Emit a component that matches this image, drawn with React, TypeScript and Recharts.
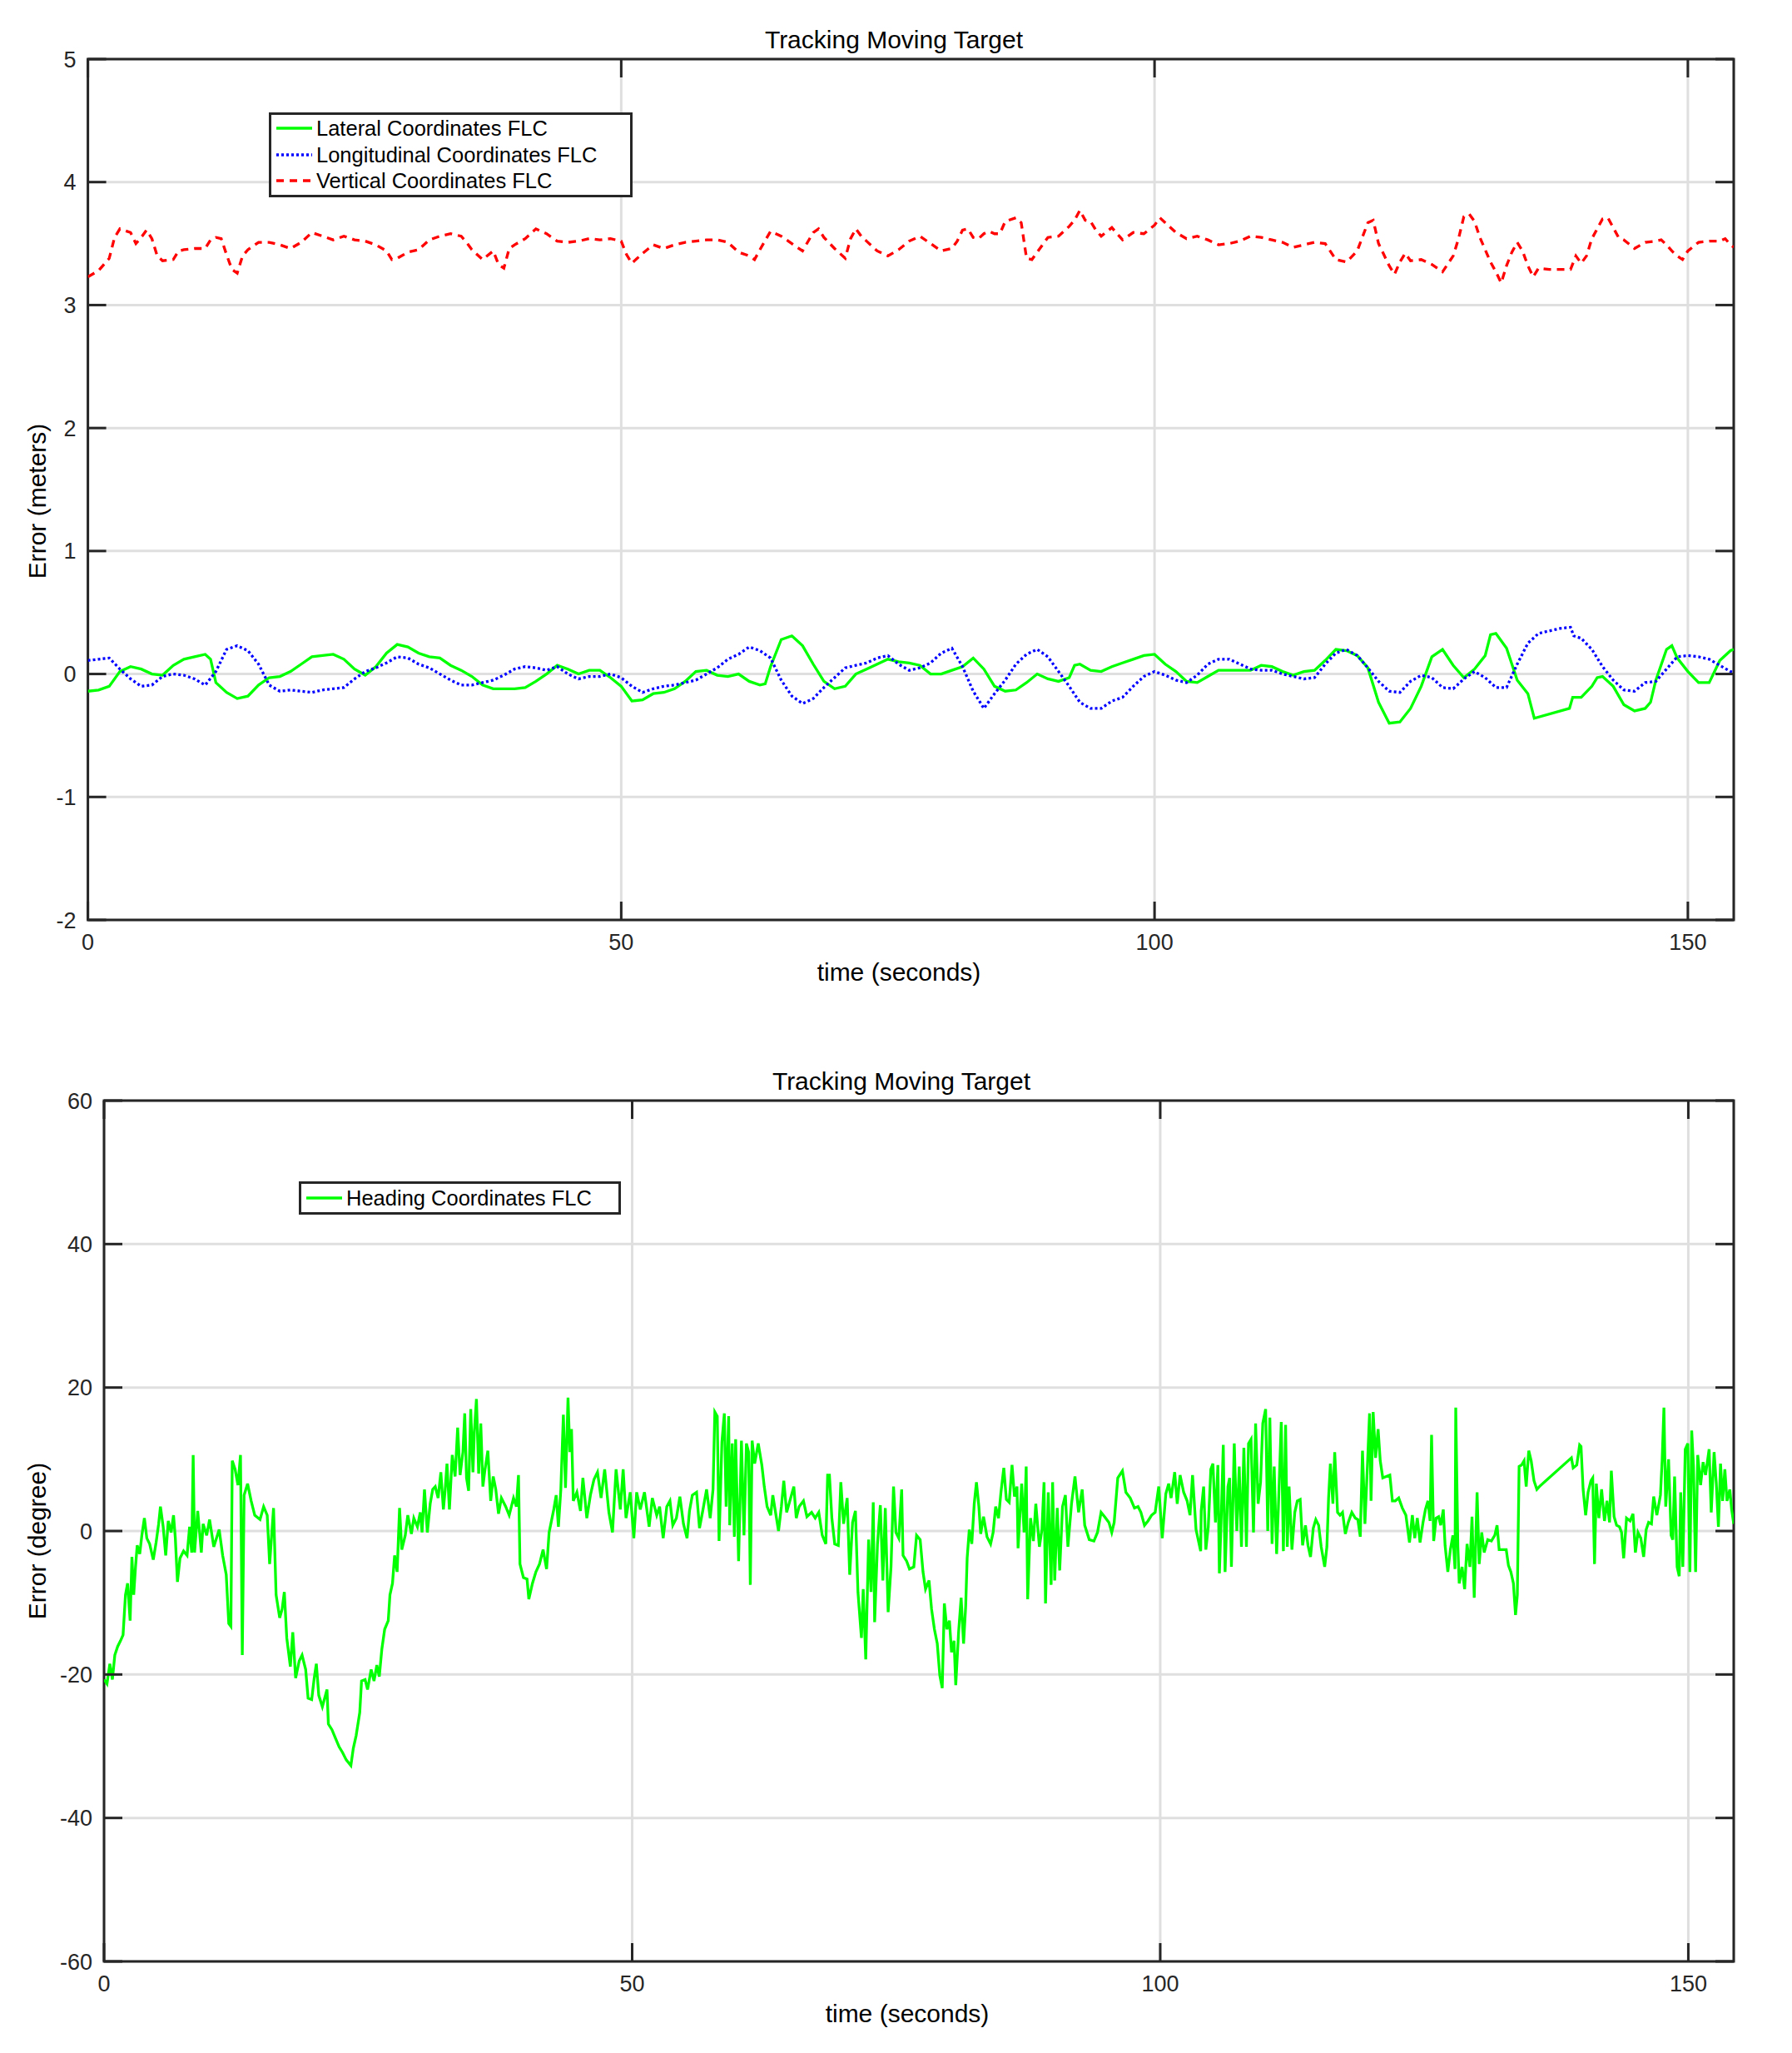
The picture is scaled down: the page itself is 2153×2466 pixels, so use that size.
import React from "react";
import {
  CartesianGrid,
  Legend,
  Line,
  LineChart,
  ReferenceArea,
  XAxis,
  YAxis,
} from "recharts";

const FONT = '"Liberation Sans", Arial, Helvetica, sans-serif';
const INK = "#262626";
const GRID_COLOR = "#dfdfdf";
const X_MAX = 154.3;
const X_TICKS = [0, 50, 100, 150];
const TOP_Y_TICKS = [-2, -1, 0, 1, 2, 3, 4, 5];
const BOT_Y_TICKS = [-60, -40, -20, 0, 20, 40, 60];

// lateral (green) error, metres
const LAT_T = [
  0, 1, 2, 3, 4, 5, 6, 7, 8, 9, 10, 11, 11.5, 12, 13, 14, 15, 16, 17, 18, 19, 20, 21, 22, 23, 24, 25, 26, 27, 28, 29, 30,
  31, 32, 33, 34, 35, 36, 37, 38, 39, 40, 41, 42, 43, 44, 45, 46, 47, 48, 49, 50, 51, 52, 53, 54, 55, 56, 57, 58, 59, 60,
  61, 62, 63, 63.5, 64, 65, 66, 67, 68, 69, 70, 71, 72, 73, 74, 75, 76, 77, 78, 79, 80, 81, 82, 83, 84, 85, 86, 87, 88,
  89, 90, 91, 92, 92.5, 93, 94, 95, 96, 97, 98, 99, 100, 101, 102, 103, 104, 105, 106, 107, 108, 109, 110, 111, 112, 113,
  114, 115, 116, 117, 118, 119, 120, 121, 122, 123, 124, 125, 125.5, 126, 127, 128, 129, 130, 131, 131.5, 132, 133, 134,
  135, 135.6, 138.9, 139.2, 140, 141, 141.5, 142, 143, 144, 145, 146, 146.5, 147, 148, 148.5, 149, 150, 151, 152, 153,
  154, 154.3,
];
const LAT_V = [
  -0.14, -0.13, -0.1, 0.02, 0.06, 0.04, 0.0, -0.01, 0.07, 0.12, 0.14, 0.16, 0.12, -0.07, -0.15, -0.2, -0.18, -0.09, -0.03,
  -0.02, 0.02, 0.08, 0.14, 0.15, 0.16, 0.12, 0.04, -0.01, 0.06, 0.17, 0.24, 0.22, 0.17, 0.14, 0.13, 0.07, 0.03, -0.02,
  -0.09, -0.12, -0.12, -0.12, -0.11, -0.06, 0.0, 0.07, 0.04, 0.0, 0.03, 0.03, -0.03, -0.1, -0.22, -0.21, -0.16, -0.15,
  -0.12, -0.06, 0.02, 0.03, -0.01, -0.02, 0.0, -0.06, -0.09, -0.08, 0.06, 0.28, 0.31, 0.23, 0.08, -0.06, -0.12, -0.1, 0.0,
  0.04, 0.08, 0.12, 0.1, 0.09, 0.07, 0.0, 0.0, 0.03, 0.06, 0.13, 0.04, -0.1, -0.14, -0.13, -0.07, 0.0, -0.04, -0.06,
  -0.03, 0.07, 0.08, 0.03, 0.02, 0.06, 0.09, 0.12, 0.15, 0.16, 0.08, 0.02, -0.06, -0.07, -0.02, 0.03, 0.03, 0.03, 0.03,
  0.07, 0.06, 0.02, -0.01, 0.02, 0.03, 0.11, 0.2, 0.19, 0.15, 0.05, -0.23, -0.4, -0.39, -0.28, -0.1, 0.02, 0.14, 0.2,
  0.07, -0.03, 0.04, 0.15, 0.32, 0.33, 0.21, -0.05, -0.16, -0.36, -0.28, -0.19, -0.19, -0.1, -0.03, -0.02, -0.1, -0.25,
  -0.3, -0.28, -0.23, -0.05, 0.2, 0.23, 0.13, 0.02, -0.07, -0.07, 0.11, 0.19, 0.2,
];

// longitudinal (blue) error, metres
const LON_T = [
  0, 1, 2, 3, 4, 5, 6, 7, 8, 9, 10, 11, 12, 13, 14, 15, 16, 17, 18, 19, 20, 21, 22, 23, 24, 25, 26, 27, 28, 29, 30, 31,
  32, 33, 34, 35, 36, 37, 38, 39, 40, 41, 42, 43, 44, 45, 46, 47, 48, 49, 50, 51, 52, 53, 54, 55, 56, 57, 58, 59, 60, 61,
  62, 63, 64, 64.5, 65, 66, 67, 68, 69, 70, 71, 72, 73, 74, 75, 76, 77, 78, 79, 80, 81, 82, 83, 84, 85, 86, 87, 88, 89,
  90, 91, 92, 93, 94, 95, 96, 97, 98, 99, 100, 101, 102, 103, 104, 105, 106, 107, 108, 109, 110, 111, 112, 113, 114, 115,
  116, 117, 118, 119, 120, 121, 122, 123, 124, 125, 126, 127, 128, 129, 130, 131, 132, 133, 134, 135, 136, 137, 138, 139,
  139.3, 140, 141, 142, 143, 144, 145, 146, 147, 148, 149, 150, 151, 152, 153, 154, 154.3,
];
const LON_V = [
  0.11, 0.12, 0.13, 0.04, -0.04, -0.1, -0.09, -0.02, 0.0, -0.01, -0.04, -0.09, 0.02, 0.2, 0.23, 0.19, 0.08, -0.09, -0.14,
  -0.13, -0.14, -0.15, -0.13, -0.12, -0.11, -0.04, 0.02, 0.05, 0.09, 0.14, 0.13, 0.08, 0.05, 0.0, -0.05, -0.09, -0.09,
  -0.07, -0.05, -0.01, 0.04, 0.06, 0.05, 0.03, 0.06, 0.0, -0.04, -0.02, -0.02, 0.0, -0.03, -0.1, -0.15, -0.12, -0.1,
  -0.09, -0.07, -0.05, 0.0, 0.05, 0.12, 0.16, 0.22, 0.19, 0.13, 0.04, -0.05, -0.18, -0.24, -0.2, -0.11, -0.03, 0.05, 0.07,
  0.09, 0.13, 0.15, 0.08, 0.03, 0.05, 0.09, 0.17, 0.21, 0.06, -0.14, -0.28, -0.16, -0.05, 0.08, 0.16, 0.2, 0.14, 0.02,
  -0.1, -0.23, -0.28, -0.28, -0.22, -0.19, -0.1, -0.02, 0.02, -0.01, -0.05, -0.07, -0.01, 0.08, 0.12, 0.12, 0.08, 0.04,
  0.03, 0.03, 0.0, -0.02, -0.04, -0.03, 0.08, 0.17, 0.2, 0.15, 0.05, -0.06, -0.14, -0.15, -0.06, -0.01, -0.03, -0.11,
  -0.12, -0.04, 0.02, -0.03, -0.11, -0.11, 0.08, 0.25, 0.33, 0.35, 0.37, 0.38, 0.31, 0.29, 0.2, 0.06, -0.05, -0.13,
  -0.14, -0.07, -0.06, 0.04, 0.14, 0.15, 0.14, 0.12, 0.07, 0.02, 0.01,
];

// vertical (red) error, metres
const VER_T = [
  0, 1, 2, 2.5, 3, 4, 4.5, 5, 5.5, 6, 6.5, 7, 8, 8.5, 9, 10, 11, 11.5, 12, 12.5, 13, 13.5, 14, 14.5, 15, 16, 17, 18, 19,
  20, 21, 22, 23, 24, 25, 26, 27, 28, 28.5, 29, 30, 31, 32, 33, 34, 35, 35.5, 36, 37, 38, 38.5, 39, 39.5, 40, 41, 42, 43,
  44, 45, 46, 47, 48, 49, 50, 50.5, 51, 52, 53, 54, 55, 56, 57, 58, 59, 60, 61, 62, 62.5, 63, 64, 65, 66, 67, 68, 68.5,
  69, 70, 71, 71.5, 72, 72.5, 73, 74, 75, 76, 77, 78, 79, 80, 81, 81.5, 82, 82.5, 83, 83.5, 84, 84.5, 85, 85.5, 86, 87,
  87.5, 88, 88.5, 89, 90, 91, 92, 92.5, 93, 93.5, 94, 94.5, 95, 96, 97, 98, 99, 100, 100.5, 101, 102, 103, 104, 105, 106,
  107, 108, 109, 110, 111, 112, 113, 114, 115, 116, 117, 118, 119, 120, 120.5, 121, 122, 122.5, 123, 123.5, 124, 125,
  126, 127, 128, 128.5, 129, 129.5, 130, 130.5, 131, 131.5, 132, 132.5, 133, 133.5, 134, 134.5, 135, 135.5, 136, 137,
  138, 139, 139.5, 140, 140.5, 141, 141.5, 142, 142.5, 143, 143.5, 144, 145, 146, 147, 147.5, 148, 148.5, 149, 149.5,
  150, 151, 152, 153, 153.5, 154, 154.3,
];
const VER_V = [
  3.23, 3.28, 3.38, 3.55, 3.62, 3.59, 3.5, 3.55, 3.61, 3.54, 3.4, 3.36, 3.37, 3.44, 3.45, 3.46, 3.46, 3.53, 3.55, 3.54,
  3.41, 3.29, 3.26, 3.4, 3.45, 3.51, 3.51, 3.49, 3.46, 3.51, 3.59, 3.56, 3.53, 3.56, 3.53, 3.52, 3.49, 3.44, 3.37, 3.38,
  3.43, 3.45, 3.53, 3.56, 3.58, 3.56, 3.51, 3.45, 3.37, 3.44, 3.33, 3.3, 3.46, 3.49, 3.54, 3.62, 3.58, 3.52, 3.51, 3.52,
  3.54, 3.53, 3.54, 3.52, 3.41, 3.34, 3.42, 3.49, 3.46, 3.49, 3.51, 3.52, 3.53, 3.53, 3.51, 3.43, 3.4, 3.37, 3.45, 3.6,
  3.56, 3.5, 3.44, 3.59, 3.62, 3.55, 3.46, 3.38, 3.54, 3.62, 3.56, 3.52, 3.44, 3.4, 3.45, 3.52, 3.56, 3.5, 3.44, 3.46,
  3.52, 3.61, 3.62, 3.55, 3.54, 3.58, 3.6, 3.58, 3.58, 3.68, 3.71, 3.67, 3.38, 3.37, 3.43, 3.55, 3.56, 3.64, 3.69, 3.77,
  3.69, 3.68, 3.61, 3.56, 3.63, 3.53, 3.59, 3.58, 3.65, 3.71, 3.67, 3.59, 3.54, 3.56, 3.53, 3.49, 3.5, 3.52, 3.56, 3.55,
  3.53, 3.51, 3.47, 3.49, 3.51, 3.5, 3.37, 3.35, 3.44, 3.67, 3.69, 3.5, 3.32, 3.25, 3.35, 3.42, 3.36, 3.37, 3.33, 3.27,
  3.4, 3.54, 3.72, 3.74, 3.68, 3.55, 3.45, 3.35, 3.27, 3.18, 3.32, 3.43, 3.51, 3.44, 3.32, 3.23, 3.3, 3.29, 3.29, 3.29,
  3.4, 3.34, 3.4, 3.54, 3.62, 3.7, 3.71, 3.63, 3.55, 3.53, 3.46, 3.51, 3.52, 3.53, 3.49, 3.44, 3.4, 3.37, 3.44, 3.51,
  3.52, 3.52, 3.54, 3.49, 3.47,
];

// heading error, degrees
const HDG_T = [
  0.01, 0.28, 0.55, 0.79, 1.02, 1.29, 1.56, 1.8, 2.03, 2.23, 2.47, 2.64, 2.81, 2.98, 3.14, 3.38, 3.58, 3.82, 4.05, 4.32,
  4.66, 4.93, 5.17, 5.34, 5.6, 5.84, 6.08, 6.35, 6.58, 6.75, 6.95, 7.19, 7.53, 7.86, 8.1, 8.3, 8.44, 8.57, 8.87, 9.21,
  9.38, 9.72, 9.99, 10.39, 10.9, 11.23, 11.57, 11.81, 12.01, 12.14, 12.41, 12.68, 12.92, 13.09, 13.26, 13.59, 13.93,
  14.27, 14.77, 15.11, 15.45, 15.68, 16.05, 16.29, 16.63, 16.86, 17.07, 17.3, 17.64, 17.87, 18.14, 18.48, 18.75, 19.09,
  19.32, 19.66, 19.9, 20.1, 20.33, 20.67, 21.11, 21.24, 21.58, 21.92, 22.26, 22.59, 22.93, 23.37, 23.6, 23.87, 24.21,
  24.38, 24.72, 24.95, 25.29, 25.56, 25.83, 26.06, 26.3, 26.57, 26.91, 27.07, 27.31, 27.51, 27.75, 27.98, 28.19, 28.52,
  28.76, 29.1, 29.33, 29.67, 29.94, 30.11, 30.34, 30.61, 30.88, 31.12, 31.36, 31.63, 31.89, 32.13, 32.3, 32.47, 32.7,
  32.97, 33.24, 33.48, 33.71, 33.98, 34.15, 34.32, 34.52, 34.72, 34.93, 35.06, 35.26, 35.47, 35.67, 35.87, 36.07, 36.34,
  36.61, 36.85, 37.09, 37.35, 37.62, 38.03, 38.36, 38.77, 39.04, 39.24, 39.38, 39.71, 40.05, 40.22, 40.56, 40.89, 41.23,
  41.57, 41.9, 42.14, 42.58, 42.81, 43.02, 43.25, 43.49, 43.69, 43.93, 44.1, 44.26, 44.43, 44.77, 45.11, 45.34, 45.71,
  46.05, 46.39, 46.72, 47.06, 47.4, 47.8, 48.14, 48.48, 48.88, 49.15, 49.42, 49.82, 50.16, 50.43, 50.77, 51.17, 51.61,
  51.91, 52.33, 52.6, 52.94, 53.28, 53.58, 53.85, 54.19, 54.52, 54.86, 55.2, 55.43, 55.7, 56.1, 56.38, 56.71, 57.05,
  57.39, 57.66, 57.83, 58.06, 58.23, 58.5, 58.73, 58.9, 59.14, 59.24, 59.48, 59.68, 59.8, 60.08, 60.35, 60.59, 60.82,
  61.03, 61.19, 61.36, 61.6, 61.94, 62.28, 62.51, 62.78, 63.12, 63.32, 63.62, 63.86, 64.13, 64.36, 64.63, 64.97, 65.31,
  65.54, 65.81, 66.22, 66.55, 66.99, 67.33, 67.67, 68.0, 68.34, 68.51, 68.68, 68.91, 69.18, 69.52, 69.76, 70.02, 70.36,
  70.6, 70.87, 71.14, 71.38, 71.71, 71.88, 72.12, 72.39, 72.62, 72.83, 72.96, 73.23, 73.5, 73.74, 73.97, 74.24, 74.51,
  74.75, 74.98, 75.25, 75.52, 75.65, 75.99, 76.26, 76.67, 76.93, 77.27, 77.54, 77.78, 78.11, 78.35, 78.62, 78.89, 79.13,
  79.36, 79.56, 79.8, 80.04, 80.24, 80.48, 80.64, 80.91, 81.15, 81.38, 81.58, 81.72, 81.92, 82.16, 82.39, 82.6, 82.83,
  83.0, 83.27, 83.6, 83.94, 84.18, 84.42, 84.69, 84.92, 85.19, 85.43, 85.7, 85.97, 86.2, 86.44, 86.54, 86.88, 87.11,
  87.31, 87.45, 87.72, 87.99, 88.22, 88.56, 88.8, 89.0, 89.14, 89.4, 89.67, 89.81, 90.01, 90.25, 90.48, 90.75, 91.02,
  91.26, 91.6, 91.93, 92.27, 92.61, 92.85, 93.28, 93.72, 94.06, 94.4, 94.73, 95.14, 95.41, 95.64, 95.98, 96.42, 96.75,
  97.16, 97.56, 97.9, 98.17, 98.51, 98.84, 99.18, 99.52, 99.86, 100.19, 100.53, 100.8, 101.03, 101.37, 101.61, 101.88,
  102.22, 102.55, 102.82, 103.06, 103.39, 103.83, 103.88, 104.11, 104.32, 104.55, 104.79, 104.99, 105.23, 105.46, 105.6,
  105.8, 105.97, 106.14, 106.41, 106.57, 106.74, 107.01, 107.25, 107.48, 107.69, 107.92, 108.16, 108.36, 108.6, 108.83,
  109.03, 109.27, 109.5, 109.71, 109.98, 110.18, 110.38, 110.59, 110.79, 111.02, 111.19, 111.46, 111.66, 111.87, 112.03,
  112.2, 112.47, 112.74, 112.98, 113.25, 113.48, 113.75, 113.99, 114.23, 114.49, 114.73, 115.0, 115.24, 115.57, 115.78,
  115.94, 116.11, 116.35, 116.52, 116.79, 117.02, 117.26, 117.53, 117.8, 118.14, 118.47, 118.71, 118.94, 119.15, 119.38,
  119.62, 119.82, 119.96, 120.16, 120.39, 120.63, 120.83, 121.07, 121.4, 121.74, 121.98, 122.25, 122.58, 122.92, 123.26,
  123.6, 123.87, 124.1, 124.34, 124.6, 124.88, 125.11, 125.35, 125.55, 125.69, 125.89, 126.12, 126.36, 126.56, 126.8,
  126.97, 127.23, 127.47, 127.71, 127.91, 127.98, 128.18, 128.31, 128.58, 128.82, 129.05, 129.32, 129.52, 129.73, 130.0,
  130.2, 130.44, 130.67, 131.01, 131.35, 131.68, 131.89, 132.09, 132.43, 132.76, 132.97, 133.2, 133.44, 133.64, 133.81,
  133.98, 134.21, 134.45, 134.65, 134.89, 135.12, 135.39, 135.66, 135.9, 138.93, 139.1, 139.44, 139.71, 139.84, 140.04,
  140.28, 140.51, 140.78, 140.95, 141.12, 141.29, 141.53, 141.79, 142.06, 142.3, 142.54, 142.71, 142.97, 143.21, 143.48,
  143.68, 143.88, 144.15, 144.49, 144.76, 144.99, 145.23, 145.5, 145.77, 146.01, 146.24, 146.51, 146.72, 147.02, 147.36,
  147.52, 147.69, 147.86, 148.13, 148.37, 148.53, 148.7, 148.94, 149.14, 149.28, 149.48, 149.71, 149.95, 150.15, 150.32,
  150.49, 150.69, 150.89, 151.16, 151.4, 151.63, 151.97, 152.17, 152.44, 152.65, 152.85, 153.05, 153.25, 153.46, 153.66,
  153.93, 154.1, 154.3,
];
const HDG_V = [
  -20.7, -21.3, -18.5, -20.7, -17.3, -16.1, -15.3, -14.5, -8.9, -7.3, -12.5, -3.6, -8.9, -5.0, -2.0, -3.2, -0.6, 1.8,
  -1.0, -1.8, -4.0, -1.6, 1.0, 3.4, 0.6, -3.4, 1.4, -0.2, 2.2, -1.0, -7.1, -3.8, -2.8, -3.4, 0.6, -3.0, 10.6, -3.0, 2.8,
  -3.0, 1.0, -0.6, 1.6, -2.2, 0.2, -3.4, -6.1, -12.9, -13.3, 9.8, 8.6, 6.4, 10.6, -17.3, 5.0, 6.6, 4.2, 2.2, 1.6, 3.4,
  2.2, -4.6, 3.2, -8.9, -12.1, -10.9, -8.5, -14.9, -18.9, -14.1, -20.5, -18.1, -17.3, -19.3, -23.3, -23.5, -20.5, -18.5,
  -22.9, -24.5, -22.1, -26.9, -27.7, -28.9, -30.1, -30.9, -31.9, -32.7, -30.3, -28.5, -25.3, -20.9, -20.7, -22.1, -19.3,
  -20.9, -18.7, -20.3, -16.5, -13.7, -12.5, -8.9, -7.3, -3.4, -5.7, 3.2, -2.6, -0.6, 2.2, -0.4, 1.8, 0.6, 2.6, -0.2, 5.8,
  -0.2, 3.8, 5.8, 6.2, 4.6, 8.2, 3.0, 5.8, 9.4, 3.0, 10.6, 7.6, 14.4, 7.8, 11.0, 16.4, 7.4, 5.6, 17.0, 8.2, 13.8, 18.4,
  8.0, 15.0, 6.2, 8.6, 11.2, 4.2, 7.6, 5.8, 2.4, 4.6, 3.4, 2.2, 4.6, 3.4, 7.8, -4.6, -6.5, -6.7, -9.5, -7.3, -5.7, -4.6,
  -2.6, -5.3, -0.2, 3.0, 5.0, 0.6, 5.8, 16.2, 6.0, 18.6, 11.0, 14.2, 4.2, 5.4, 2.8, 7.4, 1.8, 5.0, 7.2, 8.2, 4.6, 8.6,
  2.6, -0.2, 8.6, 3.0, 8.6, 1.8, 5.4, -1.0, 5.4, 3.0, 5.4, 0.6, 4.6, 2.2, 3.4, -1.0, 3.4, 4.2, 0.8, 1.8, 4.8, 1.0, -1.0,
  2.8, 5.0, 5.4, 0.4, 3.0, 5.8, 1.8, 5.8, 16.6, 16.0, -1.4, 12.4, 16.4, 3.4, 16.0, 0.8, 12.2, -0.8, 12.8, -4.2, 12.6,
  -0.6, 12.2, 11.0, -7.5, 12.6, 9.4, 12.2, 9.2, 6.2, 3.4, 2.2, 5.0, 2.2, 0.0, 3.4, 7.0, 2.6, 4.4, 6.2, 1.8, 3.4, 4.2,
  2.0, 2.6, 1.8, 2.6, -0.6, -1.8, 7.8, 7.8, 1.8, -1.8, -2.0, 6.8, 1.0, 4.6, -6.1, 1.2, 2.8, -8.5, -14.9, -8.1, -17.9,
  -1.2, -8.5, 4.0, -12.7, -1.8, 3.6, -6.9, 3.2, -11.3, -5.0, 6.2, -0.2, -1.0, 5.8, -3.4, -4.2, -5.3, -5.0, -0.6, -1.2,
  -5.7, -8.1, -6.9, -10.9, -13.7, -15.7, -20.1, -21.9, -10.1, -13.7, -12.5, -16.9, -15.3, -21.5, -14.1, -9.3, -15.7,
  -10.5, -3.8, 0.2, -1.8, 3.8, 6.8, 3.4, -0.4, 2.0, -0.8, -1.8, -0.2, 3.4, 1.8, 5.4, 8.8, 4.4, 4.0, 9.2, 4.8, 6.2, -2.4,
  6.6, -0.2, 9.0, -9.5, 1.8, -1.4, 3.8, -2.2, 0.2, 6.8, -10.1, 5.4, -7.5, 6.8, -6.9, 3.2, -5.5, 3.4, 5.0, -2.2, 3.8,
  7.6, 2.6, 5.8, 0.8, -1.2, -1.4, -0.2, 2.6, 2.0, 1.2, -0.2, 1.2, 7.4, 8.4, 5.4, 4.6, 3.2, 3.4, 2.6, 0.8, 1.4, 2.2, 2.6,
  6.2, -1.0, 5.2, 6.6, 4.6, 8.2, 3.8, 7.8, 5.4, 4.2, 2.2, 7.8, 0.2, -2.8, 2.8, 6.2, -2.6, 0.6, 8.6, 9.4, 1.2, 9.2, -5.9,
  3.0, 12.0, -5.7, 6.2, 7.4, -5.0, 12.2, 0.0, 9.0, -2.2, 11.6, -2.2, 12.2, 12.8, -0.2, 15.0, 3.8, 6.8, 15.0, 17.0, 0.0,
  15.8, -1.8, 9.0, -3.2, 3.4, 15.2, -2.8, 14.8, -2.2, 6.2, -2.6, 2.6, 4.2, 4.4, -2.0, 0.8, -2.0, -3.6, 0.4, 1.6, 0.8,
  -2.2, -5.0, -2.2, 4.6, 9.4, 3.8, 11.0, 2.6, 2.2, 2.6, -0.4, 1.2, 2.6, 1.8, 1.6, -0.8, 11.2, 1.0, 9.2, 16.4, 4.2, 16.6,
  10.2, 14.2, 9.8, 7.4, 7.6, 7.8, 4.2, 4.2, 4.6, 3.2, 2.2, -1.6, 2.2, -1.0, 1.8, -1.6, 1.2, 3.0, 4.2, 1.4, 13.4, -1.4,
  1.8, 2.0, 0.8, 3.0, -2.0, -5.7, -2.6, -0.6, -5.3, 17.2, -2.2, -7.3, -5.0, -8.1, -1.8, -5.0, 2.0, -9.3, 5.4, -4.6, -0.2,
  -3.0, -1.2, -1.4, -0.6, 0.8, -2.6, -2.6, -2.6, -4.8, -5.7, -7.3, -11.7, -8.9, 9.0, 9.2, 9.8, 6.2, 11.2, 9.8, 7.0, 5.8,
  6.2, 10.2, 8.8, 9.2, 12.0, 11.8, 5.8, 2.2, 5.4, 7.0, 7.4, -4.6, 6.6, 1.8, 5.8, 1.4, 4.2, 1.2, 8.4, 2.0, 0.8, 0.6, -0.2,
  -3.8, 1.8, 1.4, 2.4, -3.0, -0.2, -1.0, -3.6, 0.2, 1.2, 1.0, 4.8, 2.2, 5.0, 9.8, 17.2, 3.4, 10.0, -0.6, -1.2, 7.6, -5.0,
  -6.3, 5.4, -5.0, 11.4, 12.2, -5.7, 14.0, 9.0, -5.7, 10.6, 6.4, 9.6, 7.8, 11.4, 2.6, 11.0, 6.6, 0.6, 9.4, 4.2, 8.6, 4.2,
  5.8, 3.0, 1.0,
];

const zip = (t: number[], v: number[]) => t.map((x, i) => ({ t: x, v: v[i] }));

type Frame = { left: number; right: number; top: number; bottom: number };
type SeriesStyle = { name: string; color: string; dash?: string };

// plot boxes in chart-local pixels
const TOP_FRAME: Frame = { left: 105.6, right: 2083, top: 71, bottom: 1105 };
const BOT_FRAME: Frame = { left: 125, right: 2083, top: 82, bottom: 1116 };
const TICK_LEN = 22;

const LATERAL: SeriesStyle = { name: "Lateral Coordinates FLC", color: "#00ff00" };
const LONGITUDINAL: SeriesStyle = { name: "Longitudinal Coordinates FLC", color: "#0000ff", dash: "3 3" };
const VERTICAL: SeriesStyle = { name: "Vertical Coordinates FLC", color: "#ff0000", dash: "9 7" };
const HEADING: SeriesStyle = { name: "Heading Coordinates FLC", color: "#00ff00" };

const xTick = (frame: Frame) => (props: any) => {
  const { x, payload } = props;
  return (
    <g>
      <line x1={x} x2={x} y1={frame.bottom} y2={frame.bottom - TICK_LEN} stroke={INK} strokeWidth={3} />
      <line x1={x} x2={x} y1={frame.top} y2={frame.top + TICK_LEN} stroke={INK} strokeWidth={3} />
      <text x={x} y={frame.bottom + 36} textAnchor="middle" fontSize={27} fontFamily={FONT} fill={INK}>
        {payload.value}
      </text>
    </g>
  );
};

const yTick = (frame: Frame) => (props: any) => {
  const { y, payload } = props;
  return (
    <g>
      <line x1={frame.left} x2={frame.left + TICK_LEN} y1={y} y2={y} stroke={INK} strokeWidth={3} />
      <line x1={frame.right - TICK_LEN} x2={frame.right} y1={y} y2={y} stroke={INK} strokeWidth={3} />
      <text x={frame.left - 14} y={y + 9.5} textAnchor="end" fontSize={27} fontFamily={FONT} fill={INK}>
        {payload.value}
      </text>
    </g>
  );
};

function legendBox(items: SeriesStyle[], width: number, height: number, rowY: number[]) {
  return () => (
    <div
      style={{
        width,
        height,
        boxSizing: "border-box",
        border: `3px solid ${INK}`,
        background: "#fff",
      }}
    >
      <svg width={width - 6} height={height - 6} style={{ display: "block" }}>
        {items.map((s, i) => (
          <g key={s.name}>
            <line
              x1={6}
              x2={49}
              y1={rowY[i]}
              y2={rowY[i]}
              stroke={s.color}
              strokeWidth={3.3}
              strokeDasharray={s.dash}
            />
            <text x={54} y={rowY[i] + 9} fontSize={25.5} fontFamily={FONT} fill="#000">
              {s.name}
            </text>
          </g>
        ))}
      </svg>
    </div>
  );
}

function seriesLine(s: SeriesStyle, data: { t: number; v: number }[]) {
  return (
    <Line
      key={s.name}
      data={data}
      dataKey="v"
      name={s.name}
      type="linear"
      stroke={s.color}
      strokeWidth={3.3}
      strokeDasharray={s.dash}
      dot={false}
      activeDot={false}
      isAnimationActive={false}
    />
  );
}

const textStyle = { fontFamily: FONT, fill: "#000" };

export default function App() {
  return (
    <div style={{ position: "absolute", left: 0, top: 0, width: 2153, height: 2466, background: "#fff" }}>
      <svg width={2153} height={2466} style={{ position: "absolute", left: 0, top: 0 }}>
        <text x={1074} y={58} textAnchor="middle" fontSize={30} {...textStyle}>
          Tracking Moving Target
        </text>
        <text x={1080} y={1178} textAnchor="middle" fontSize={30} {...textStyle}>
          time (seconds)
        </text>
        <text x={55} y={602} textAnchor="middle" fontSize={30} transform="rotate(-90 55 602)" {...textStyle}>
          Error (meters)
        </text>
        <text x={1083} y={1309} textAnchor="middle" fontSize={30} {...textStyle}>
          Tracking Moving Target
        </text>
        <text x={1090} y={2429} textAnchor="middle" fontSize={30} {...textStyle}>
          time (seconds)
        </text>
        <text x={55} y={1851} textAnchor="middle" fontSize={30} transform="rotate(-90 55 1851)" {...textStyle}>
          Error (degree)
        </text>
      </svg>

      <div style={{ position: "absolute", left: 0, top: 0 }}>
        <LineChart width={2153} height={1240} margin={{ top: 71, right: 70, bottom: 75, left: 0 }}>
          <CartesianGrid stroke={GRID_COLOR} strokeWidth={3} />
          <XAxis
            dataKey="t"
            type="number"
            domain={[0, X_MAX]}
            ticks={X_TICKS}
            interval={0}
            allowDataOverflow
            height={60}
            axisLine={false}
            tickLine={false}
            tickSize={0}
            tick={xTick(TOP_FRAME)}
          />
          <YAxis
            type="number"
            domain={[-2, 5]}
            ticks={TOP_Y_TICKS}
            interval={0}
            allowDataOverflow
            width={105.6}
            axisLine={false}
            tickLine={false}
            tickSize={0}
            tick={yTick(TOP_FRAME)}
          />
          {seriesLine(LATERAL, zip(LAT_T, LAT_V))}
          {seriesLine(LONGITUDINAL, zip(LON_T, LON_V))}
          {seriesLine(VERTICAL, zip(VER_T, VER_V))}
          <ReferenceArea
            x1={0}
            x2={X_MAX}
            y1={-2}
            y2={5}
            fill="none"
            fillOpacity={0}
            stroke={INK}
            strokeWidth={3}
            ifOverflow="visible"
          />
          <Legend
            layout="horizontal"
            verticalAlign="middle"
            wrapperStyle={{ left: 323, top: 135, width: 437, height: 102 }}
            content={legendBox([LATERAL, LONGITUDINAL, VERTICAL], 437, 102, [16, 48, 79])}
          />
        </LineChart>
      </div>

      <div style={{ position: "absolute", left: 0, top: 1240 }}>
        <LineChart width={2153} height={1226} margin={{ top: 82, right: 70, bottom: 50, left: 0 }}>
          <CartesianGrid stroke={GRID_COLOR} strokeWidth={3} />
          <XAxis
            dataKey="t"
            type="number"
            domain={[0, X_MAX]}
            ticks={X_TICKS}
            interval={0}
            allowDataOverflow
            height={60}
            axisLine={false}
            tickLine={false}
            tickSize={0}
            tick={xTick(BOT_FRAME)}
          />
          <YAxis
            type="number"
            domain={[-60, 60]}
            ticks={BOT_Y_TICKS}
            interval={0}
            allowDataOverflow
            width={125}
            axisLine={false}
            tickLine={false}
            tickSize={0}
            tick={yTick(BOT_FRAME)}
          />
          {seriesLine(HEADING, zip(HDG_T, HDG_V))}
          <ReferenceArea
            x1={0}
            x2={X_MAX}
            y1={-60}
            y2={60}
            fill="none"
            fillOpacity={0}
            stroke={INK}
            strokeWidth={3}
            ifOverflow="visible"
          />
          <Legend
            layout="horizontal"
            verticalAlign="middle"
            wrapperStyle={{ left: 359, top: 179, width: 387, height: 40 }}
            content={legendBox([HEADING], 387, 40, [17])}
          />
        </LineChart>
      </div>
    </div>
  );
}
